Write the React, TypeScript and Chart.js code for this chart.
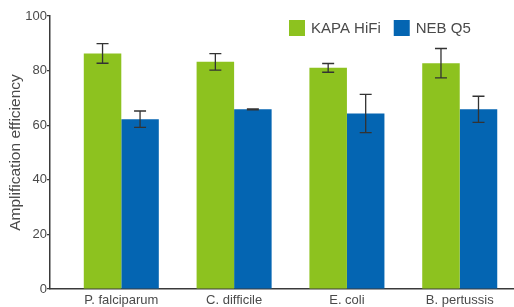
import React, { useEffect, useRef } from 'react';
import { Chart, registerables } from 'chart.js';

Chart.register(...registerables);

const categories = ['P. falciparum', 'C. difficile', 'E. coli', 'B. pertussis'];
const seriesNames = ['KAPA HiFi', 'NEB Q5'];
const kapaValues = [86.3, 83.2, 81.0, 82.7];
const kapaErrors = [3.6, 3.0, 1.6, 5.4];
const nebValues = [62.2, 65.8, 64.3, 65.8];
const nebErrors = [3.0, 0.2, 7.0, 4.8];
const yMin = 0;
const yMax = 100;
const yStep = 20;

const colors = ['#8dc21f', '#0465b2'];
const errorSets = [kapaErrors, nebErrors];
const FONT = "'Liberation Sans', Arial, sans-serif";
const TEXT = '#4a4a4a';
const AXIS = '#3a3a3a';

const errorBarPlugin = {
  id: 'errorBars',
  afterDatasetsDraw(chart: any) {
    const ctx = chart.ctx;
    const y = chart.scales.y;
    chart.data.datasets.forEach((ds: any, i: number) => {
      const meta = chart.getDatasetMeta(i);
      const errs = errorSets[i];
      meta.data.forEach((bar: any, j: number) => {
        const v = ds.data[j].y;
        const e = errs[j];
        const yTop = y.getPixelForValue(v + e);
        const yBot = y.getPixelForValue(v - e);
        const cap = 6;
        ctx.save();
        ctx.strokeStyle = '#333';
        ctx.lineWidth = 1.3;
        ctx.beginPath();
        ctx.moveTo(bar.x, yTop);
        ctx.lineTo(bar.x, yBot);
        ctx.moveTo(bar.x - cap, yTop);
        ctx.lineTo(bar.x + cap, yTop);
        ctx.moveTo(bar.x - cap, yBot);
        ctx.lineTo(bar.x + cap, yBot);
        ctx.stroke();
        ctx.restore();
      });
    });
  },
};

const legendPlugin = {
  id: 'insideLegend',
  afterDraw(chart: any) {
    const ctx = chart.ctx;
    const box = 16;
    let x = 289;
    const yTop = 20;
    ctx.save();
    ctx.font = `15px ${FONT}`;
    ctx.textBaseline = 'middle';
    ctx.textAlign = 'left';
    chart.data.datasets.forEach((ds: any) => {
      ctx.fillStyle = ds.backgroundColor;
      ctx.fillRect(x, yTop, box, box);
      ctx.fillStyle = TEXT;
      const tx = x + box + 6;
      ctx.fillText(ds.label, tx, yTop + box / 2 + 0.5);
      x = tx + ctx.measureText(ds.label).width + 13;
    });
    ctx.restore();
  },
};

export default function App() {
  const ref = useRef<HTMLCanvasElement>(null);

  useEffect(() => {
    if (!ref.current) return;
    const chart = new Chart(ref.current, {
      type: 'bar',
      data: {
        datasets: [
          {
            label: seriesNames[0],
            data: kapaValues.map((v, i) => ({ x: i, y: v })),
            backgroundColor: colors[0],
            borderWidth: 0,
          },
          {
            label: seriesNames[1],
            data: nebValues.map((v, i) => ({ x: i, y: v })),
            backgroundColor: colors[1],
            borderWidth: 0,
          },
        ],
      },
      options: {
        animation: false,
        responsive: true,
        maintainAspectRatio: false,
        layout: { padding: { top: 16, left: 0, right: 0, bottom: 0 } },
        plugins: {
          legend: { display: false },
          tooltip: { enabled: false },
        },
        datasets: {
          bar: { categoryPercentage: 0.665, barPercentage: 1 },
        },
        scales: {
          x: {
            type: 'linear',
            offset: false,
            min: -0.632,
            max: 3.481,
            grid: { display: false, drawTicks: false, offset: false },
            border: { display: true, color: AXIS, width: 1.5 },
            ticks: {
              stepSize: 1,
              includeBounds: false,
              autoSkip: false,
              color: TEXT,
              font: { family: FONT, size: 13 },
              padding: 4,
              maxRotation: 0,
              callback: (v: any) => categories[v] ?? '',
            },
            afterFit(scale: any) {
              scale.height = 18;
            },
          },
          y: {
            min: yMin,
            max: yMax,
            grid: { drawOnChartArea: false, drawTicks: true, tickLength: 3, color: AXIS, lineWidth: 1.2 },
            border: { display: true, color: AXIS, width: 1.5 },
            ticks: { stepSize: yStep, color: TEXT, font: { family: FONT, size: 13 }, padding: 0 },
            title: {
              display: true,
              text: 'Amplification efficiency',
              color: TEXT,
              font: { family: FONT, size: 15.5 },
              padding: { top: 6, bottom: 0 },
            },
            afterFit(scale: any) {
              scale.width = 50;
            },
          },
        },
      } as any,
      plugins: [errorBarPlugin, legendPlugin],
    });
    return () => chart.destroy();
  }, []);

  return (
    <div style={{ position: 'absolute', left: 0, top: 0, width: 514, height: 307, background: '#fff' }}>
      <canvas ref={ref} />
    </div>
  );
}
